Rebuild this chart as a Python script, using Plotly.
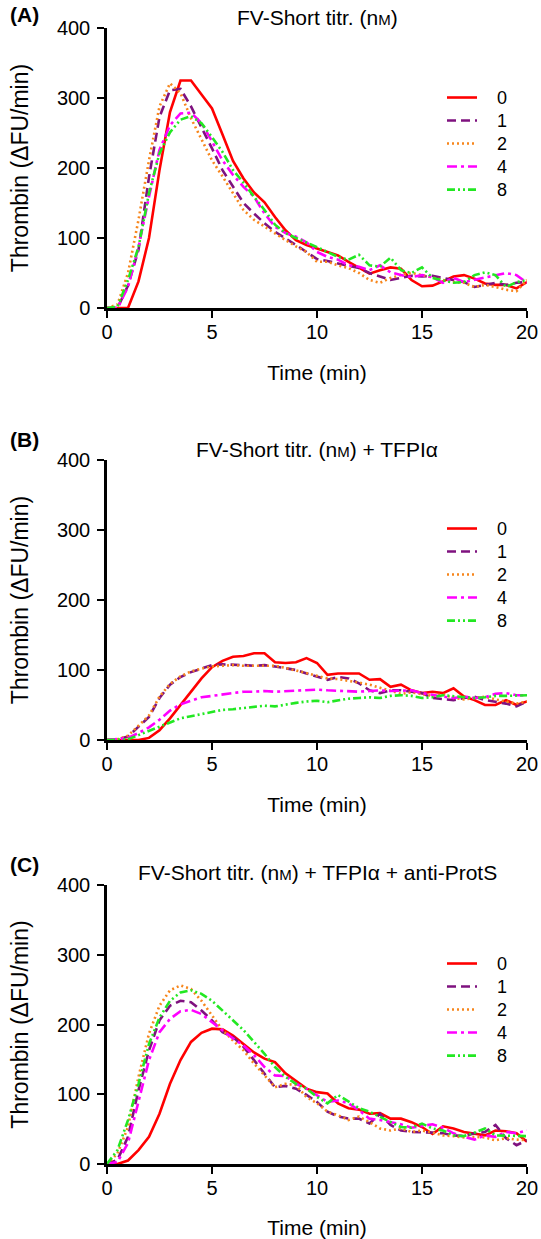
import plotly.graph_objects as go

# ---------------- data ----------------
time_min = [i * 0.5 for i in range(41)]  # 0 .. 20 min
concentrations = ["0", "1", "2", "4", "8"]

# Panel A: FV-Short titration
a_0 = [0, 0, 0, 38, 100, 197, 280, 325, 325, 305, 285, 248, 210, 185, 165, 151, 130, 111, 97, 90,
       85, 80, 75, 66, 58, 49, 54, 58, 56, 40, 31, 32, 38, 45, 47, 42, 35, 33, 33, 28, 37]
a_1 = [0, 0, 32, 83, 187, 273, 311, 313, 288, 259, 228, 197, 173, 150, 135, 121, 109, 100, 90, 80,
       70, 67, 64, 61, 57, 50, 45, 40, 43, 46, 45, 46, 43, 40, 37, 30, 33, 36, 33, 36, 37]
a_2 = [0, 5, 50, 126, 211, 288, 321, 307, 271, 240, 211, 188, 164, 140, 126, 116, 107, 97, 88, 80,
       66, 66, 61, 57, 50, 40, 36, 43, 47, 50, 47, 43, 40, 37, 36, 30, 33, 30, 26, 24, 40]
a_4 = [0, 0, 30, 87, 159, 226, 261, 278, 279, 264, 238, 211, 190, 173, 159, 135, 116, 107, 102, 94,
       80, 73, 69, 61, 59, 54, 61, 51, 47, 44, 47, 44, 36, 43, 37, 40, 44, 47, 50, 47, 36]
a_8 = [0, 2, 40, 87, 164, 221, 251, 269, 274, 264, 244, 223, 197, 179, 159, 140, 119, 107, 100, 94,
       87, 80, 73, 69, 76, 61, 59, 72, 54, 50, 58, 43, 40, 36, 37, 47, 51, 47, 30, 37, 40]

# Panel B: + TFPIalpha
b_0 = [0, 0, 0, 0, 3, 14, 31, 50, 69, 88, 104, 113, 119, 120, 124, 124, 111, 110, 111, 117,
       110, 93, 95, 95, 95, 86, 87, 76, 79, 71, 67, 69, 67, 74, 62, 57, 50, 50, 57, 50, 55]
b_1 = [0, 1, 5, 19, 33, 60, 79, 90, 97, 102, 107, 108, 108, 107, 106, 107, 105, 102, 100, 95,
       91, 86, 90, 88, 81, 71, 67, 71, 71, 69, 67, 60, 59, 57, 60, 62, 57, 55, 52, 48, 55]
b_2 = [0, 1, 6, 20, 35, 62, 80, 91, 98, 102, 105, 106, 107, 106, 106, 105, 106, 103, 99, 96,
       92, 88, 87, 85, 82, 79, 75, 70, 66, 68, 65, 63, 65, 60, 58, 60, 62, 58, 55, 52, 55]
b_4 = [0, 1, 3, 10, 18, 29, 42, 51, 56, 61, 63, 65, 67, 69, 69, 70, 69, 70, 71, 72,
       72, 71, 70, 69, 69, 70, 71, 70, 71, 71, 67, 64, 62, 60, 62, 60, 61, 66, 67, 64, 64]
b_8 = [0, 0, 1, 7, 13, 20, 26, 31, 34, 37, 40, 43, 44, 46, 47, 49, 48, 51, 53, 55,
       56, 54, 57, 59, 60, 61, 60, 63, 64, 63, 60, 61, 64, 63, 62, 60, 61, 63, 63, 63, 64]

# Panel C: + TFPIalpha + anti-ProtS
c_0 = [0, 0, 5, 20, 39, 72, 115, 149, 175, 188, 194, 193, 184, 172, 160, 151, 146, 130, 119, 108,
       103, 101, 87, 80, 78, 72, 73, 65, 65, 60, 53, 43, 54, 51, 46, 44, 41, 48, 47, 44, 32]
c_1 = [0, 6, 39, 106, 163, 206, 227, 234, 232, 220, 206, 189, 182, 168, 149, 130, 110, 112, 108, 99,
       89, 75, 68, 65, 65, 58, 72, 56, 48, 46, 46, 45, 44, 41, 40, 44, 46, 56, 37, 27, 34]
c_2 = [0, 15, 53, 125, 187, 227, 249, 256, 251, 234, 213, 192, 177, 163, 144, 127, 110, 115, 113, 96,
       87, 75, 70, 63, 68, 60, 51, 48, 51, 46, 48, 45, 41, 40, 38, 39, 38, 34, 37, 35, 34]
c_4 = [0, 3, 30, 91, 149, 189, 208, 219, 221, 215, 203, 192, 180, 170, 156, 139, 127, 126, 115, 108,
       99, 89, 91, 87, 77, 65, 63, 60, 57, 52, 54, 57, 52, 44, 39, 35, 41, 39, 46, 44, 48]
c_8 = [0, 20, 63, 115, 172, 210, 234, 246, 249, 244, 234, 220, 206, 192, 175, 158, 139, 125, 115, 108,
       96, 87, 99, 89, 80, 75, 68, 60, 53, 52, 58, 51, 48, 41, 40, 45, 51, 41, 41, 41, 40]

panel_series = [
    [a_0, a_1, a_2, a_4, a_8],
    [b_0, b_1, b_2, b_4, b_8],
    [c_0, c_1, c_2, c_4, c_8],
]
panel_letters = ["(A)", "(B)", "(C)"]
small_nm = "(n<span style='font-size:15px'>M</span>)"
panel_titles = [
    "FV-Short titr. " + small_nm,
    "FV-Short titr. " + small_nm + " + TFPIα",
    "FV-Short titr. " + small_nm + " + TFPIα + anti-ProtS",
]
y_ticks = [0, 100, 200, 300, 400]
x_ticks = [0, 5, 10, 15, 20]

# ---------------- style ----------------
colors = ["#FF0000", "#7F127F", "#F7861C", "#FF00FF", "#22E822"]
dashes = ["solid", "9px,5px", "2px,3px", "10px,4px,3px,4px", "8px,3px,2px,3px,2px,3px"]
FONT = "Arial, Liberation Sans, Helvetica, sans-serif"
PAD = "\u00a0\u00a0\u00a0"

W, H = 541, 1239
ML, MR, MT, MB = 107, 14, 28, 75
PH = H - MT - MB
PW = W - ML - MR
# pixel rows of the plot areas (top, bottom)
panel_px = [(28, 308), (460, 740), (885, 1164)]
legend_top_px = [81, 512, 947]
title_px = [18, 449, 873]
letter_px = [15, 440, 865]


def py2paper(py):
    return (H - MB - py) / PH


fig = go.Figure()
for p in range(3):
    ax = "" if p == 0 else str(p + 1)
    leg = "legend" if p == 0 else "legend" + str(p + 1)
    for k in range(5):
        fig.add_trace(go.Scatter(
            x=time_min, y=panel_series[p][k], mode="lines",
            name="<span style='font-size:18px'>" + PAD + concentrations[k] + "</span>",
            line=dict(color=colors[k], width=2.6, dash=dashes[k]),
            xaxis="x" + ax, yaxis="y" + ax, legend=leg,
        ))

layout = dict(
    width=W, height=H,
    margin=dict(l=ML, r=MR, t=MT, b=MB, autoexpand=False),
    paper_bgcolor="white", plot_bgcolor="white",
    font=dict(family=FONT, size=20, color="black"),
    showlegend=True,
)
annotations = []
for p in range(3):
    ax = "" if p == 0 else str(p + 1)
    top, bot = panel_px[p]
    common = dict(
        showgrid=False, zeroline=False, showline=True, linecolor="black", linewidth=2.5,
        ticks="outside", ticklen=7, tickwidth=2, tickcolor="black", automargin=False,
        tickfont=dict(family=FONT, size=20, color="black"),
    )
    layout["xaxis" + ax] = dict(
        common, domain=[0, 1], range=[0, 20], tickvals=x_ticks,
        anchor="y" + ax, ticklabelstandoff=-3,
        title=dict(text="Time (min)", font=dict(family=FONT, size=21), standoff=24),
    )
    layout["yaxis" + ax] = dict(
        common, domain=[py2paper(bot), py2paper(top)], range=[0, 400], tickvals=y_ticks,
        anchor="x" + ax, ticklabelstandoff=3,
        title=dict(text="Thrombin (ΔFU/min)", font=dict(family=FONT, size=23), standoff=22),
    )
    leg = "legend" if p == 0 else "legend" + str(p + 1)
    layout[leg] = dict(
        x=(442 - ML) / PW, xanchor="left",
        y=py2paper(legend_top_px[p]), yanchor="top",
        bgcolor="rgba(0,0,0,0)", itemwidth=30,
        font=dict(family=FONT, size=15.4, color="black"),
        tracegroupgap=0,
    )
    annotations.append(dict(
        text="<b>" + panel_letters[p] + "</b>", xref="paper", yref="paper",
        x=(8 - ML) / PW, xanchor="left",
        y=py2paper(letter_px[p]), yanchor="middle", showarrow=False,
        font=dict(family=FONT, size=21, color="black"),
    ))
    annotations.append(dict(
        text=panel_titles[p], xref="paper", yref="paper",
        x=0.5, xanchor="center",
        y=py2paper(title_px[p]), yanchor="middle", showarrow=False,
        font=dict(family=FONT, size=21, color="black"),
    ))
layout["annotations"] = annotations
fig.update_layout(**layout)

fig.write_html("out.html", config={"displayModeBar": False},
               post_script="document.body.style.margin='0px';")
